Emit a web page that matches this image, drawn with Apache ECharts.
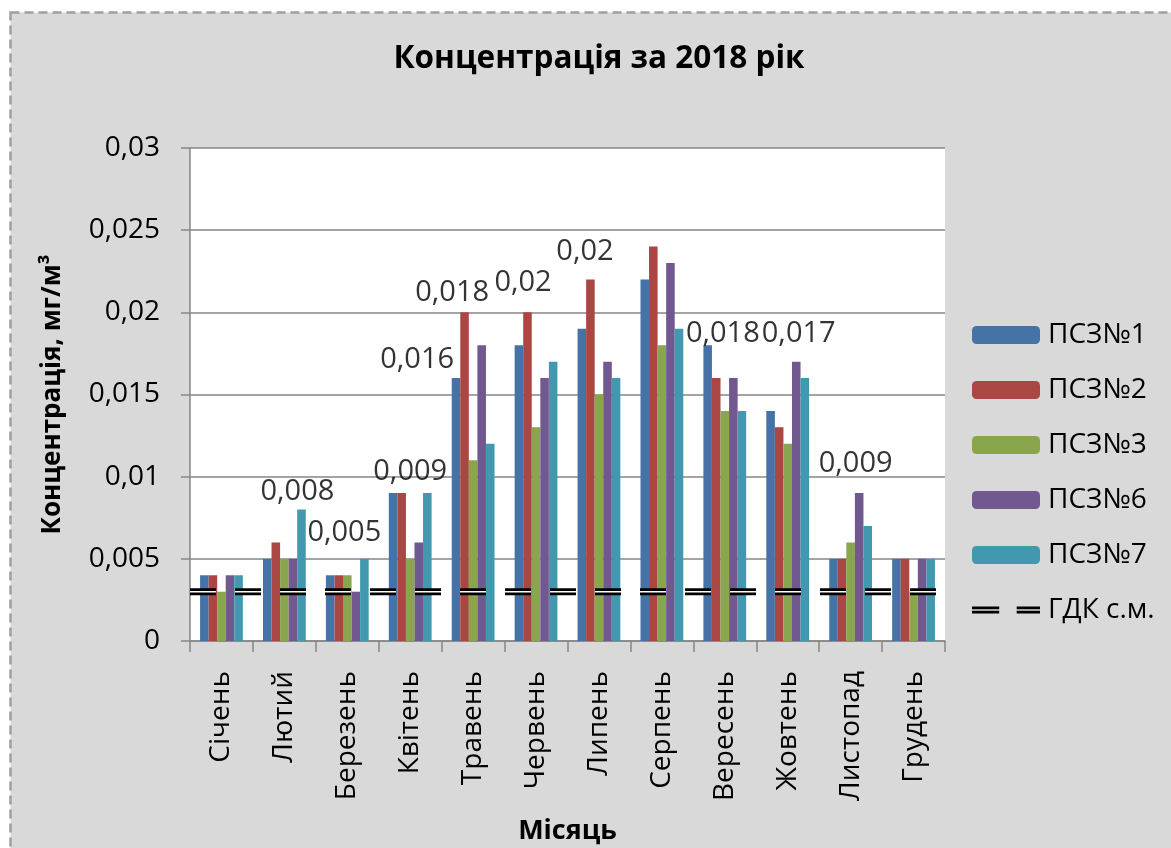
<!DOCTYPE html>
<html>
<head>
<meta charset="utf-8">
<script src="https://cdn.jsdelivr.net/npm/echarts@6/dist/echarts.min.js"></script>
<style>
  html, body { margin: 0; padding: 0; background: #ffffff; }
  #chart { width: 1171px; height: 848px; }
</style>
</head>
<body>
<div id="chart"></div>
<script>
// ---- data ----
var months = ['Січень','Лютий','Березень','Квітень','Травень','Червень','Липень','Серпень','Вересень','Жовтень','Листопад','Грудень'];
var psz1 = [0.004, 0.005, 0.004, 0.009, 0.016, 0.018, 0.019, 0.022, 0.018, 0.014, 0.005, 0.005];
var psz2 = [0.004, 0.006, 0.004, 0.009, 0.020, 0.020, 0.022, 0.024, 0.016, 0.013, 0.005, 0.005];
var psz3 = [0.003, 0.005, 0.004, 0.005, 0.011, 0.013, 0.015, 0.018, 0.014, 0.012, 0.006, 0.003];
var psz6 = [0.004, 0.005, 0.003, 0.006, 0.018, 0.016, 0.017, 0.023, 0.016, 0.017, 0.009, 0.005];
var psz7 = [0.004, 0.008, 0.005, 0.009, 0.012, 0.017, 0.016, 0.019, 0.014, 0.016, 0.007, 0.005];
var gdk  = [0.003, 0.003, 0.003, 0.003, 0.003, 0.003, 0.003, 0.003, 0.003, 0.003, 0.003, 0.003];
var seriesNames = ['ПСЗ№1','ПСЗ№2','ПСЗ№3','ПСЗ№6','ПСЗ№7'];
var gdkName = 'ГДК с.м.';
var yTicks = [0, 0.005, 0.01, 0.015, 0.02, 0.025, 0.03];
// annotation texts: month, text, level (value at label centre)
var noteMonths = ['Лютий','Березень','Квітень','Травень','Травень','Червень','Липень','Вересень','Жовтень','Листопад'];
var noteTexts  = ['0,008','0,005','0,009','0,016','0,018','0,02','0,02','0,018','0,017','0,009'];
var noteLevels = [0.0091, 0.0066, 0.0103, 0.0171, 0.0212, 0.0218, 0.0237, 0.0187, 0.0187, 0.0108];

// ---- styling ----
var colors = ['#4572a7','#aa4643','#89a54e','#71588f','#4198af'];
var noteDx = [13, -3, 0, -56, -21, -13, -14, -2, 11, 5];
var FONT = 'Open Sans';

var chart = echarts.init(document.getElementById('chart'), null, {renderer: 'canvas'});

function fmt(v) { return String(v).replace('.', ','); }

var series = [];
var allData = [psz1, psz2, psz3, psz6, psz7];
for (var i = 0; i < 5; i++) {
  series.push({
    name: seriesNames[i],
    type: 'bar',
    xAxisIndex: 0,
    yAxisIndex: 0,
    data: allData[i],
    barGap: '0%',
    barCategoryGap: '32%',
    itemStyle: { color: colors[i] },
    emphasis: { disabled: true },
    z: 2
  });
}
series.push({
  name: gdkName,
  type: 'line',
  xAxisIndex: 1,
  yAxisIndex: 0,
  data: gdk,
  symbol: 'none',
  lineStyle: { color: '#000000', width: 7, type: [26, 19], cap: 'butt' },
  itemStyle: { color: '#000000' },
  z: 5,
  silent: true
});
series.push({
  name: 'inner',
  type: 'line',
  xAxisIndex: 1,
  yAxisIndex: 0,
  data: gdk,
  symbol: 'none',
  lineStyle: { color: '#ffffff', width: 1.5, type: [26, 19], cap: 'butt' },
  z: 6,
  silent: true
});
var noteData = [];
for (var k = 0; k < noteMonths.length; k++) {
  noteData.push({
    value: [noteMonths[k], noteLevels[k]],
    label: { formatter: noteTexts[k], offset: [noteDx[k], 0] }
  });
}
series.push({
  name: 'notes',
  type: 'scatter',
  xAxisIndex: 0,
  yAxisIndex: 0,
  symbolSize: 0,
  data: noteData,
  label: { show: true, position: 'inside', color: '#000', fontSize: 29, fontFamily: FONT },
  silent: true,
  z: 10
});

var legendData = seriesNames.map(function (n) { return { name: n }; });
legendData.push({
  name: gdkName,
  icon: 'path://M0 0H28V2.6H0ZM0 4.4H28V7H0ZM46 0H70V2.6H46ZM46 4.4H70V7H46Z',
  itemStyle: { color: '#000000' }
});

var option = {
  backgroundColor: '#ffffff',
  animation: false,
  textStyle: { fontFamily: FONT },
  graphic: [{
    type: 'rect',
    shape: { x: 10.5, y: 12.5, width: 1300, height: 1000 },
    style: { fill: '#d9d9d9', stroke: '#a0a0a0', lineWidth: 2.5, lineDash: [9, 5] },
    z: -10,
    silent: true
  }],
  title: {
    text: 'Концентрація за 2018 рік',
    left: 594,
    textAlign: 'center',
    top: 38,
    textStyle: { fontFamily: FONT, fontSize: 31.5, fontWeight: 'bold', color: '#000' }
  },
  legend: {
    orient: 'vertical',
    left: 967,
    top: 316,
    itemWidth: 68,
    itemHeight: 18,
    itemGap: 27,
    data: legendData,
    textStyle: { fontFamily: FONT, fontSize: 28, lineHeight: 20, color: '#000', padding: [0, 0, 0, 3] },
    selectedMode: false
  },
  grid: { left: 190, right: 226, top: 148, bottom: 207, backgroundColor: '#ffffff', show: true, borderWidth: 0,
          outerBoundsMode: 'none', containLabel: false },
  xAxis: [{
    type: 'category',
    data: months,
    axisLine: { lineStyle: { color: '#868686', width: 1.5 } },
    axisTick: { show: true, length: 11, interval: 0, lineStyle: { color: '#868686', width: 1.5 } },
    axisLabel: { rotate: 90, interval: 0, margin: 30, fontSize: 28, color: '#000', fontFamily: FONT },
    name: 'Місяць',
    nameLocation: 'middle',
    nameGap: 177,
    nameTextStyle: { fontSize: 27, fontWeight: 'bold', color: '#000', fontFamily: FONT }
  }, {
    type: 'category',
    data: months,
    boundaryGap: false,
    show: false
  }],
  yAxis: [{
    type: 'value',
    min: 0,
    max: 0.03,
    interval: 0.005,
    axisLine: { show: true, lineStyle: { color: '#868686', width: 1.5 } },
    axisTick: { show: true, length: 9, inside: false, lineStyle: { color: '#868686', width: 1.5 } },
    splitLine: { show: true, lineStyle: { color: '#868686', width: 1.5 } },
    axisLabel: { margin: 30, fontSize: 28, color: '#000', fontFamily: FONT,
      formatter: function (v) { return fmt(+v.toFixed(3)); } },
    name: 'Концентрація, мг/м³',
    nameLocation: 'middle',
    nameGap: 124,
    nameTextStyle: { fontSize: 26, fontWeight: 'bold', color: '#000', fontFamily: FONT }
  }],
  series: series
};
chart.setOption(option);
</script>
</body>
</html>
